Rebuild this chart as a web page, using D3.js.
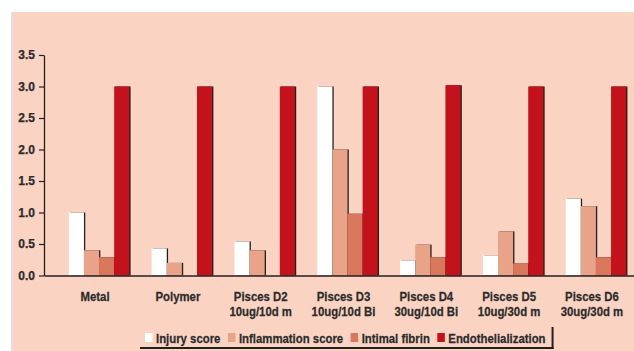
<!DOCTYPE html>
<html>
<head>
<meta charset="utf-8">
<script src="https://cdn.jsdelivr.net/npm/d3@7"></script>
<style>
  html, body { margin: 0; padding: 0; background: #ffffff; }
  svg { display: block; }
  text { font-family: "Liberation Sans", Arial, sans-serif; font-weight: bold; fill: #2b2b2b; }
  .lbl { stroke: #2b2b2b; stroke-width: 0.25px; }
</style>
</head>
<body>
<svg id="chart" width="634" height="351"></svg>
<script>
const categories = ["Metal", "Polymer", "Pisces D2", "Pisces D3", "Pisces D4", "Pisces D5", "Pisces D6"];
const categorySub = ["", "", "10ug/10d m", "10ug/10d Bi", "30ug/10d Bi", "10ug/30d m", "30ug/30d m"];
const seriesNames = ["Injury score", "Inflammation score", "Intimal fibrin", "Endothelialization"];
const injury = [1.0, 0.43, 0.54, 3.0, 0.24, 0.32, 1.22];
const inflammation = [0.40, 0.20, 0.40, 2.0, 0.49, 0.70, 1.10];
const intimal = [0.29, 0, 0, 0.98, 0.29, 0.19, 0.29];
const endothelialization = [3.0, 3.0, 3.0, 3.0, 3.02, 3.0, 3.0];
const yTicks = [0, 0.5, 1.0, 1.5, 2.0, 2.5, 3.0, 3.5];

const seriesValues = [injury, inflammation, intimal, endothelialization];
const colors = ["#ffffff", "#e8a388", "#d9775c", "#c3121b"];
const condense = 0.875;

const svg = d3.select("#chart");
// background panel
svg.append("rect").attr("x", 11).attr("y", 12).attr("width", 623).attr("height", 339).attr("fill", "#e2dfde");
svg.append("rect").attr("x", 12.7).attr("y", 12).attr("width", 622).attr("height", 339).attr("fill", "#fbd3c2");

const x = d3.scaleBand().domain(categories).range([44, 651]).paddingInner(0.27).paddingOuter(0.3);
const xs = d3.scaleBand().domain(seriesNames).range([0, x.bandwidth()]);
const y = d3.scaleLinear().domain([0, 3.5]).range([275.5, 55]);

// bars
const groups = svg.append("g").selectAll("g").data(categories).join("g")
  .attr("transform", d => `translate(${x(d)},0)`);
groups.each(function(cat, ci) {
  const g = d3.select(this);
  seriesNames.forEach((s, si) => {
    const v = seriesValues[si][ci];
    if (v <= 0) return;
    const bx = xs(s), bw = xs.bandwidth();
    g.append("rect").attr("x", bx + 1.3).attr("y", y(v)).attr("width", bw).attr("height", y(0) - y(v)).attr("fill", "#231f20");
    g.append("rect").attr("x", bx).attr("y", y(v)).attr("width", bw).attr("height", y(0) - y(v)).attr("fill", colors[si]);
  });
});

// y axis
const yAxis = svg.append("g").attr("transform", "translate(44,0)")
  .call(d3.axisLeft(y).tickValues(yTicks).tickFormat(d3.format(".1f")).tickSize(5).tickSizeOuter(0));
yAxis.select(".domain").attr("stroke", "#231f20").attr("stroke-width", 1.3);
yAxis.selectAll(".tick line").attr("stroke", "#231f20").attr("stroke-width", 1.2);
yAxis.selectAll(".tick text").attr("x", -9).attr("class", "lbl")
  .style("font-size", "12px").style("font-family", "'Liberation Sans', Arial, sans-serif").style("font-weight", "bold").attr("fill", "#2b2b2b");

// x axis baseline
const xAxis = svg.append("g").attr("transform", `translate(0,${y(0)})`)
  .call(d3.axisBottom(d3.scaleLinear().domain([0, 1]).range([44, 634])).tickValues([]).tickSizeOuter(0));
xAxis.select(".domain").attr("stroke", "#231f20").attr("stroke-width", 1.6);

// category labels (condensed by horizontal scaling)
const labelG = svg.append("g").selectAll("g").data(categories).join("g")
  .attr("transform", d => `translate(${x(d) + x.bandwidth() / 2 - 4},300.5) scale(${condense},1)`);
labelG.append("text").attr("class", "lbl").attr("text-anchor", "middle").style("font-size", "13px").text(d => d);
labelG.append("text").attr("class", "lbl").attr("text-anchor", "middle").attr("y", 15.5).style("font-size", "13px")
  .text((d, i) => categorySub[i]);

// legend
const legend = svg.append("g");
let lx = 145;
seriesNames.forEach((s, i) => {
  legend.append("rect").attr("x", lx).attr("y", 333).attr("width", 7.5).attr("height", 9).attr("fill", colors[i]);
  const tg = legend.append("g").attr("transform", `translate(${lx + 11},342.5) scale(${condense},1)`);
  const t = tg.append("text").attr("class", "lbl").style("font-size", "13px").text(s);
  const w = t.node().getComputedTextLength() * condense;
  lx += 11 + w + 7.5;
});
const legendRight = lx - 1.5;
legend.append("rect").attr("x", 140).attr("y", 347).attr("width", legendRight - 140 + 2).attr("height", 2).attr("fill", "#231f20");
legend.append("rect").attr("x", legendRight).attr("y", 327).attr("width", 2).attr("height", 22).attr("fill", "#231f20");
</script>
</body>
</html>
